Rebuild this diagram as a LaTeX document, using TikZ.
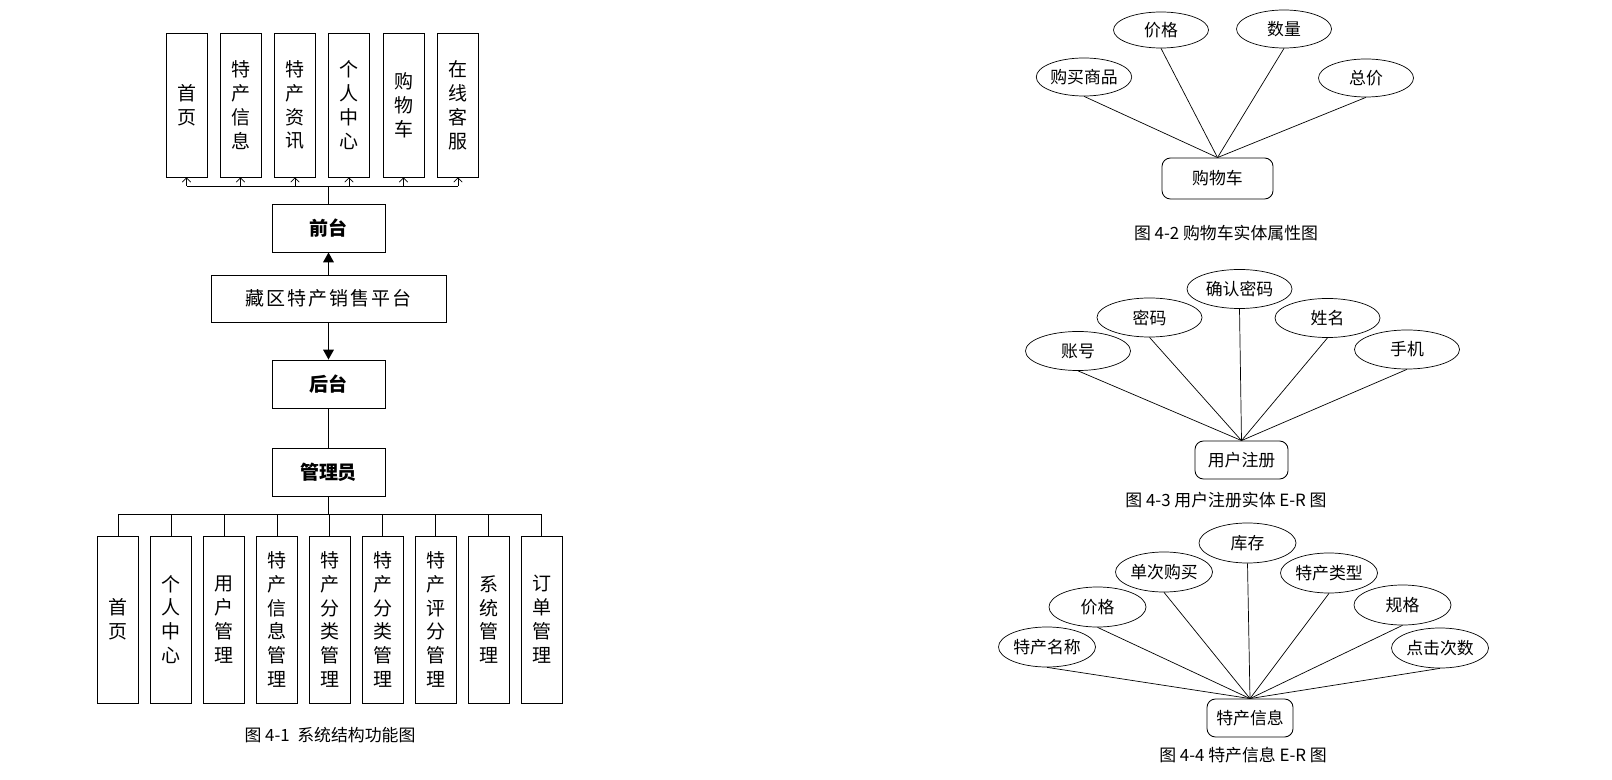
\documentclass[tikz,border=0pt]{standalone}
\usepackage{fontspec}
\setmainfont{Noto Sans CJK SC}
\usetikzlibrary{shapes.geometric,arrows.meta}

\begin{document}
\begin{tikzpicture}[x=0.025cm, y=-0.025cm,
        every node/.style={font=\fontsize{12}{14}\selectfont},
        sysbox/.style={draw, line width=0.6pt, minimum width=2.825cm, minimum height=1.2cm, inner sep=0pt, font=\fontsize{13.5}{16}\selectfont\bfseries},
        colbox/.style={draw, line width=0.6pt, minimum width=1.025cm, inner sep=0pt, align=center, font=\fontsize{13.5}{17}\selectfont},
        attr/.style={draw, ellipse, line width=0.5pt, inner sep=0pt},
        entity/.style={draw, rounded corners=6pt, line width=0.6pt, inner sep=0pt},
        link/.style={line width=0.5pt},
        openarrow/.style={-{Straight Barb[length=3pt,width=6pt]}, line width=0.5pt},
        bigarrow/.style={-{Triangle[length=7pt,width=7.5pt]}, line width=1pt},
        figcap/.style={font=\fontsize{12}{14}\selectfont}]
    \useasboundingbox (0,0) rectangle (1612,780);

    % system structure
    \node[colbox, minimum height=3.6cm] (nav1) at (186.5,105) {首\\页};
    \node[colbox, minimum height=3.6cm] (nav2) at (240.5,105) {特\\产\\信\\息};
    \node[colbox, minimum height=3.6cm] (nav3) at (295,105) {特\\产\\资\\讯};
    \node[colbox, minimum height=3.6cm] (nav4) at (349,105) {个\\人\\中\\心};
    \node[colbox, minimum height=3.6cm] (nav5) at (403.5,105) {购\\物\\车};
    \node[colbox, minimum height=3.6cm] (nav6) at (458,105) {在\\线\\客\\服};
    \node[sysbox] (front) at (328.5,228) {前台};
    \node[sysbox, minimum width=5.875cm, minimum height=1.175cm, font=\fontsize{13.5}{16}\selectfont\addfontfeature{LetterSpace=10}] (platform) at (328.5,298.5) {藏区特产销售平台};
    \node[sysbox] (back) at (328.5,384) {后台};
    \node[sysbox] (admin) at (328.5,472) {管理员};
    \node[colbox, minimum height=4.175cm] (mg1) at (118,619.5) {首\\页};
    \node[colbox, minimum height=4.175cm] (mg2) at (171,619.5) {个\\人\\中\\心};
    \node[colbox, minimum height=4.175cm] (mg3) at (224,619.5) {用\\户\\管\\理};
    \node[colbox, minimum height=4.175cm] (mg4) at (277,619.5) {特\\产\\信\\息\\管\\理};
    \node[colbox, minimum height=4.175cm] (mg5) at (329.5,619.5) {特\\产\\分\\类\\管\\理};
    \node[colbox, minimum height=4.175cm] (mg6) at (382.5,619.5) {特\\产\\分\\类\\管\\理};
    \node[colbox, minimum height=4.175cm] (mg7) at (435.5,619.5) {特\\产\\评\\分\\管\\理};
    \node[colbox, minimum height=4.175cm] (mg8) at (488.5,619.5) {系\\统\\管\\理};
    \node[colbox, minimum height=4.175cm] (mg9) at (541.5,619.5) {订\\单\\管\\理};
    \node[figcap] (cap1) at (330,735) {图 4-1\ \ 系统结构功能图};

    \coordinate (topbus) at (0,186);
    \coordinate (lowbus) at (0,514);
    \draw[link] (front.north) -- (front.north |- topbus);
    \draw[link] (nav1.south |- topbus) -- (nav6.south |- topbus);
    \draw[openarrow] (nav1.south |- topbus) -- (nav1.south);
    \draw[openarrow] (nav2.south |- topbus) -- (nav2.south);
    \draw[openarrow] (nav3.south |- topbus) -- (nav3.south);
    \draw[openarrow] (nav4.south |- topbus) -- (nav4.south);
    \draw[openarrow] (nav5.south |- topbus) -- (nav5.south);
    \draw[openarrow] (nav6.south |- topbus) -- (nav6.south);
    \draw[bigarrow] (platform.north) -- (front.south);
    \draw[bigarrow] (platform.south) -- (back.north);
    \draw[link] (back.south) -- (admin.north);
    \draw[link] (admin.south) -- (admin.south |- lowbus);
    \draw[link] (mg1.north |- lowbus) -- (mg9.north |- lowbus);
    \draw[link] (mg1.north |- lowbus) -- (mg1.north);
    \draw[link] (mg2.north |- lowbus) -- (mg2.north);
    \draw[link] (mg3.north |- lowbus) -- (mg3.north);
    \draw[link] (mg4.north |- lowbus) -- (mg4.north);
    \draw[link] (mg5.north |- lowbus) -- (mg5.north);
    \draw[link] (mg6.north |- lowbus) -- (mg6.north);
    \draw[link] (mg7.north |- lowbus) -- (mg7.north);
    \draw[link] (mg8.north |- lowbus) -- (mg8.north);
    \draw[link] (mg9.north |- lowbus) -- (mg9.north);

    % cart
    \node[attr, minimum width=2.375cm, minimum height=0.95cm] (cgoods) at (1084,77) {购买商品};
    \node[attr, minimum width=2.375cm, minimum height=0.9cm] (cprice) at (1161,30) {价格};
    \node[attr, minimum width=2.375cm, minimum height=0.95cm] (camount) at (1284,29) {数量};
    \node[attr, minimum width=2.375cm, minimum height=0.95cm] (ctotal) at (1366,78) {总价};
    \node[entity, minimum width=2.775cm, minimum height=1.025cm] (cart) at (1217.5,178.5) {购物车};
    \draw[link] (cgoods.south) -- (cart.north);
    \draw[link] (cprice.south) -- (cart.north);
    \draw[link] (camount.south) -- (cart.north);
    \draw[link] (ctotal.south) -- (cart.north);
    \node[figcap] (cap2) at (1226,233) {图 4-2 购物车实体属性图};

    % user register
    \node[attr, minimum width=2.625cm, minimum height=0.975cm] (uacc) at (1078,351) {账号};
    \node[attr, minimum width=2.625cm, minimum height=0.975cm] (upwd) at (1149.5,317.5) {密码};
    \node[attr, minimum width=2.625cm, minimum height=0.975cm] (uconf) at (1239.5,289) {确认密码};
    \node[attr, minimum width=2.625cm, minimum height=0.975cm] (uname) at (1327.5,318) {姓名};
    \node[attr, minimum width=2.625cm, minimum height=0.975cm] (uphone) at (1407,349.5) {手机};
    \node[entity, minimum width=2.325cm, minimum height=0.95cm] (user) at (1241.5,460) {用户注册};
    \draw[link] (uacc.south) -- (user.north);
    \draw[link] (upwd.south) -- (user.north);
    \draw[link] (uconf.south) -- (user.north);
    \draw[link] (uname.south) -- (user.north);
    \draw[link] (uphone.south) -- (user.north);
    \node[figcap] (cap3) at (1226,500) {图 4-3 用户注册实体 E-R 图};

    % product info
    \node[attr, minimum width=2.425cm, minimum height=1cm] (pname) at (1047,647) {特产名称};
    \node[attr, minimum width=2.425cm, minimum height=1cm] (pprice) at (1097.5,607) {价格};
    \node[attr, minimum width=2.425cm, minimum height=1cm] (pbuy) at (1164,572) {单次购买};
    \node[attr, minimum width=2.425cm, minimum height=1cm] (pstock) at (1247.5,543) {库存};
    \node[attr, minimum width=2.425cm, minimum height=1cm] (ptype) at (1329,573) {特产类型};
    \node[attr, minimum width=2.425cm, minimum height=1cm] (pspec) at (1402.5,605) {规格};
    \node[attr, minimum width=2.425cm, minimum height=1cm] (pclick) at (1440,648) {点击次数};
    \node[entity, minimum width=2.15cm, minimum height=0.95cm] (product) at (1250,718) {特产信息};
    \draw[link] (pname.south) -- (product.north);
    \draw[link] (pprice.south) -- (product.north);
    \draw[link] (pbuy.south) -- (product.north);
    \draw[link] (pstock.south) -- (product.north);
    \draw[link] (ptype.south) -- (product.north);
    \draw[link] (pspec.south) -- (product.north);
    \draw[link] (pclick.south) -- (product.north);
    \node[figcap] (cap4) at (1243,755) {图 4-4 特产信息 E-R 图};
\end{tikzpicture}
\end{document}
